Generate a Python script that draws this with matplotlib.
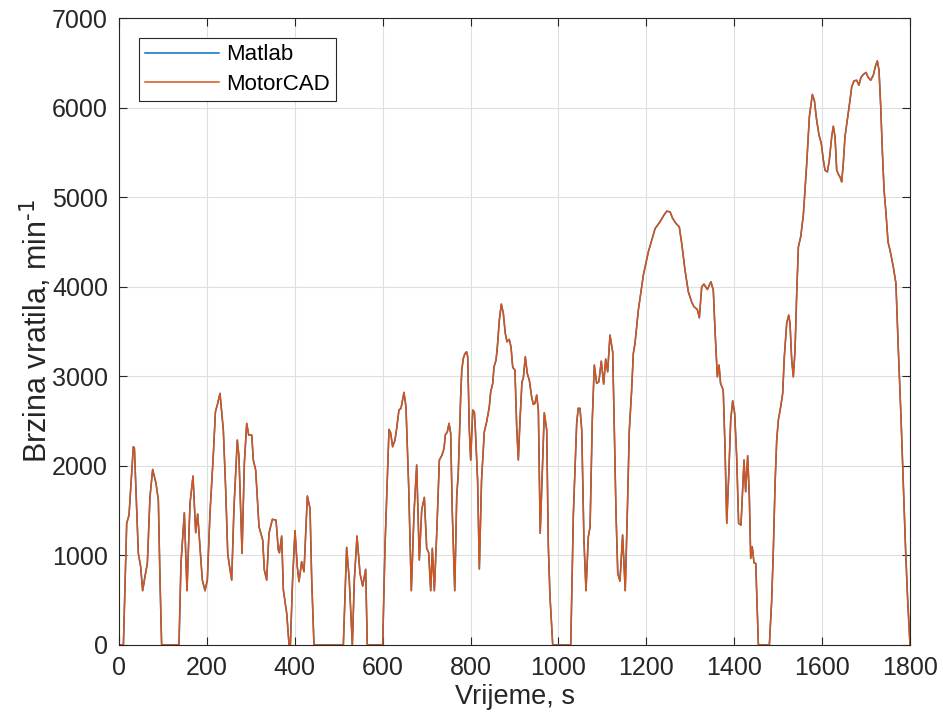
import matplotlib.pyplot as plt

# drive cycle, motor speed
time_s = [
    0, 10, 17.5, 22.8, 32.6, 35, 44, 49.3, 53.8, 59, 64.5, 70.5, 76.6, 84.2, 89.5, 93.3, 97,
    136.5, 141, 148.7, 154.7, 161.6, 168.4, 174.5, 179, 184.3, 189.6, 195.7, 201, 207, 214.8,
    219.4, 224.6, 229.8, 237.4, 242.8, 247.4, 251, 256.4, 261.7, 269.2, 273, 280, 285.2, 290.6,
    295.1, 302, 305.7, 311, 318.6, 327, 330.7, 336, 341.3, 349, 357.3, 362.5, 365, 370.2, 374,
    381.6, 387, 390, 395, 400.5, 405.7, 409.6, 415.7, 421, 428.6, 434.7, 438.5, 443.7,
    510.5, 518, 524, 531, 535.5, 541.6, 548.4, 554.5, 561.3, 565,
    600, 605.3, 614.4, 618, 622.7, 628, 631.9, 637, 641.7, 648.5, 653, 659.2, 665.2, 671.3,
    677.4, 683.4, 688.8, 694.8, 700.2, 704.7, 709.3, 713, 717.6, 723, 729, 735, 739.6, 742.6,
    747.2, 751, 754.8, 758.5, 764, 768.5, 772, 777.5, 780, 783.5, 787.4, 791, 793.5, 797.2,
    800.3, 805, 808.7, 811, 816, 820, 825, 831.3, 836.7, 842.7, 845.8, 850.4, 853.4, 858, 861,
    865.5, 870, 874.6, 879, 883, 888, 892, 896, 901, 905, 908.7, 912.5, 917, 920, 924.6, 929,
    933.7, 939, 942.8, 946.5, 950.5, 954.3, 956.6, 958.5, 967.8, 973.3, 977, 980.8, 987,
    1028, 1034, 1041.5, 1045, 1049, 1053, 1058, 1062.7, 1068, 1072, 1077, 1081.6, 1087, 1092,
    1097.5, 1102.9, 1107.5, 1112, 1117.3, 1123.4, 1126.4, 1131, 1135, 1140, 1146, 1152, 1156.7,
    1161.3, 1166.6, 1170.4, 1174.2, 1181.8, 1193.2, 1204.6, 1212.3, 1220, 1231, 1240, 1246.4,
    1254, 1260, 1267.5, 1275, 1280.5, 1288, 1295.6, 1303, 1308.5, 1316, 1320.6, 1326, 1331,
    1338.8, 1347, 1352.4, 1356.3, 1361.6, 1365.4, 1369, 1375, 1379, 1383, 1388, 1392, 1396.5,
    1401, 1405.6, 1410, 1415.4, 1418.5, 1422.3, 1426, 1430.6, 1434.4, 1437.5, 1441, 1445, 1449,
    1455, 1480, 1485.3, 1489, 1493, 1496.7, 1500.4, 1505.8, 1510.3, 1514, 1519.4, 1524, 1527,
    1530.8, 1534.5, 1538.4, 1542.2, 1546, 1551.3, 1557.3, 1565, 1571, 1577.7, 1582.3, 1587.6,
    1593, 1598.2, 1602.8, 1606.6, 1612, 1616.4, 1621.8, 1625.5, 1629.4, 1633.2, 1637, 1640.7,
    1644.6, 1648.2, 1652, 1657.3, 1663.5, 1667.3, 1672.6, 1678.6, 1683.8, 1688.4, 1693.7, 1700,
    1705, 1710.6, 1716.5, 1722, 1725.7, 1729.5, 1733.4, 1737, 1741, 1745.4, 1750, 1754.5, 1762,
    1768, 1773.5, 1779.5, 1784.8, 1790, 1794.7, 1800,
]
speed_rpm = [
    0, 0, 1358, 1450, 2213, 2200, 1023, 874, 606, 762, 911, 1655, 1960, 1805, 1618, 725, 0,
    0, 911, 1476, 606, 1581, 1886, 1254, 1462, 1097, 725, 606, 725, 1470, 2139,
    2604, 2697, 2809, 2400, 1730, 1023, 893, 725, 1543, 2288, 2101, 1023, 2028, 2474,
    2344, 2344, 2065, 1953, 1320, 1172, 837, 725, 1247, 1403, 1395, 1060, 1030, 1216, 614,
    354, 0, 0, 725, 1276, 874, 707, 930, 818, 1663, 1525, 725, 0,
    0, 1090, 725, 0, 725, 1216, 800, 658, 845, 0,
    0, 1097, 2407, 2370, 2213, 2288, 2418, 2623, 2642, 2820, 2660, 1767, 606, 1470,
    2009, 949, 1507, 1648, 1079, 1030, 606, 1079, 606, 1247, 2065, 2120, 2195, 2344,
    2381, 2474, 2362, 1470, 606, 1655, 1916, 2771, 3069, 3200, 3255, 3273, 3218, 2400,
    2065, 2623, 2600, 2400, 1841, 848, 1841, 2381, 2493, 2660, 2827, 2920, 3106, 3181, 3329,
    3627, 3806, 3702, 3479, 3385, 3412, 3329, 3099, 3069, 2436, 2065, 2511, 2939, 2976, 3218, 3032,
    2957, 2771, 2686, 2697, 2790, 2623, 1841, 1247, 2593, 2400, 1097, 539, 0,
    0, 1470, 2474, 2642, 2642, 2400, 1172, 606, 1209, 1320, 2511, 3125, 2920, 2939,
    3169, 2913, 3192, 3050, 3460, 3273, 2586, 1470, 800, 714, 1228, 606, 1470,
    2400, 2846, 3255, 3367, 3739, 4129, 4389, 4520, 4650, 4724, 4799, 4843,
    4836, 4762, 4706, 4668, 4483, 4185, 3943, 3831, 3776, 3746, 3653, 3999, 4029,
    3969, 4055, 3962, 3515, 2994, 3125, 2920, 2846, 2213, 1358, 1953, 2511, 2727,
    2586, 2101, 1358, 1339, 1655, 2065, 1711, 2113, 1655, 967, 1097, 918, 910,
    0, 0, 502, 1060, 1805, 2288, 2511, 2660, 2809, 3218, 3590, 3683, 3590,
    3181, 2994, 3292, 3925, 4445, 4557, 4800, 5376, 5896, 6146, 6082, 5859,
    5692, 5599, 5413, 5301, 5282, 5413, 5673, 5792, 5673, 5301, 5256, 5226,
    5170, 5376, 5673, 5859, 6082, 6231, 6298, 6305, 6250, 6336, 6369, 6392,
    6336, 6305, 6361, 6473, 6521, 6417, 6008, 5524, 5078, 4818, 4500, 4408, 4222,
    4036, 3292, 2548, 1805, 1060, 502, 0,
]

plt.rcParams['font.family'] = ['Liberation Sans', 'DejaVu Sans']

fig = plt.figure(figsize=(9.43, 7.23), dpi=100)
ax = fig.add_axes([0.1262, 0.1079, 0.8388, 0.8672])

ax.plot(time_s, speed_rpm, color=(0, 0.447, 0.741), lw=1.1, label='Matlab')
ax.plot(time_s, speed_rpm, color=(0.85, 0.325, 0.098), lw=1.1, label='MotorCAD')

ax.set_xlim(0, 1800)
ax.set_ylim(0, 7000)
ax.set_xticks(range(0, 1801, 200))
ax.set_yticks(range(0, 7001, 1000))
ax.grid(True, color='#dfdfdf', lw=0.8)
ax.set_axisbelow(True)
ax.tick_params(direction='in', top=True, right=True, labelsize=18, colors='#262626',
               length=6, pad=8)
for s in ax.spines.values():
    s.set_color('#262626')
    s.set_linewidth(0.8)

ax.set_xlabel('Vrijeme, s', fontsize=19.5, color='#262626', labelpad=3)
ax.set_ylabel(r'Brzina vratila, min$^{\text{-1}}$', fontsize=22, color='#262626', labelpad=-2)

leg = ax.legend(loc='upper left', bbox_to_anchor=(0.0253, 0.968), borderaxespad=0,
                fontsize=16, fancybox=False, framealpha=1, edgecolor='#262626',
                handlelength=3.3, handletextpad=0.32, borderpad=0.28, labelspacing=0.4)
leg.get_frame().set_linewidth(0.8)

plt.savefig('out.png')
plt.close()
